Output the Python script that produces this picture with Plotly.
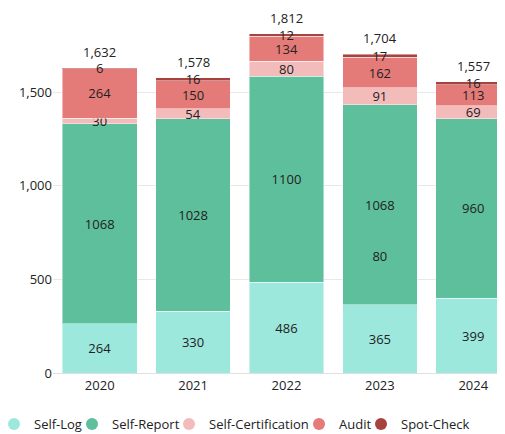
import plotly.graph_objects as go

years = ["2020", "2021", "2022", "2023", "2024"]
self_log = [264, 330, 486, 365, 399]
self_report = [1068, 1028, 1100, 1068, 960]
self_cert = [30, 54, 80, 91, 69]
audit = [264, 150, 134, 162, 113]
spot_check = [6, 16, 12, 17, 16]
totals = [1632, 1578, 1812, 1704, 1557]
# stray label drawn inside the 2023 Self-Report bar in the source chart
stray_year = ["2023"]
stray_value = [615]
stray_text = ["80"]

series = [
    ("Self-Log", self_log, "#9de8dc"),
    ("Self-Report", self_report, "#5dbf9b"),
    ("Self-Certification", self_cert, "#f3bcbb"),
    ("Audit", audit, "#e57b78"),
    ("Spot-Check", spot_check, "#a8423f"),
]

FONT = "Open Sans"
TXT = "#222222"

# the page body adds an 8px offset, so the figure is sized to the remaining area
FIG_W, FIG_H = 497, 426
plot_left = 45
plot_w = FIG_W - plot_left

fig = go.Figure()
for name, vals, col in series:
    fig.add_trace(go.Bar(
        x=years, y=vals, name=name, showlegend=False,
        marker=dict(color=col, line=dict(color="rgba(255,255,255,0.45)", width=1)),
        text=[str(v) for v in vals], textposition="inside", insidetextanchor="middle",
        textangle=0, constraintext="none",
        insidetextfont=dict(family=FONT, size=13, color=TXT),
        hoverinfo="skip",
    ))

fig.add_trace(go.Scatter(
    x=stray_year, y=stray_value, mode="text", text=stray_text,
    textposition="middle center", textfont=dict(family=FONT, size=13, color=TXT),
    showlegend=False, hoverinfo="skip",
))

annotations = [
    dict(x=i, y=tot, xref="x", yref="y", text=f"{tot:,}", showarrow=False,
         yanchor="bottom", yshift=5, font=dict(family=FONT, size=13, color=TXT))
    for i, tot in enumerate(totals)
]

# legend entries: one legend per item so spacing can match the source
legend_names = ["legend", "legend2", "legend3", "legend4", "legend5"]
legend_x_px = [-14, 64, 161, 291, 353]
for (name, vals, col), lg in zip(series, legend_names):
    fig.add_trace(go.Scatter(
        x=[None], y=[None], mode="markers", name=name, legend=lg,
        marker=dict(symbol="circle", size=12, color=col), showlegend=True,
    ))

legend_common = dict(orientation="h", xanchor="left", yanchor="middle", y=-0.1397,
                     font=dict(family=FONT, size=13, color=TXT),
                     bgcolor="rgba(0,0,0,0)", borderwidth=0)
layout_legends = {}
for lg, px in zip(legend_names, legend_x_px):
    layout_legends[lg] = dict(legend_common, x=(px - plot_left) / plot_w)

fig.update_layout(
    width=FIG_W, height=FIG_H,
    margin=dict(l=plot_left, r=0, t=0, b=61, autoexpand=False),
    barmode="stack", bargap=0.2,
    paper_bgcolor="white", plot_bgcolor="white",
    font=dict(family=FONT, size=13, color=TXT),
    uniformtext=dict(minsize=13, mode="show"),
    annotations=annotations,
    xaxis=dict(type="category", range=[-0.5, 4.34], showgrid=False, showline=True,
               linecolor="#e0e0e0", ticks="", tickfont=dict(size=13, color=TXT),
               fixedrange=True),
    yaxis=dict(range=[0, 1950], tickvals=[0, 500, 1000, 1500], tickformat=",",
               showgrid=True, gridcolor="#e8e8e8", zeroline=False, showline=False,
               ticks="", tickfont=dict(size=13, color=TXT), fixedrange=True),
    **layout_legends,
)

fig.write_html("out.html", config={"displayModeBar": False})
